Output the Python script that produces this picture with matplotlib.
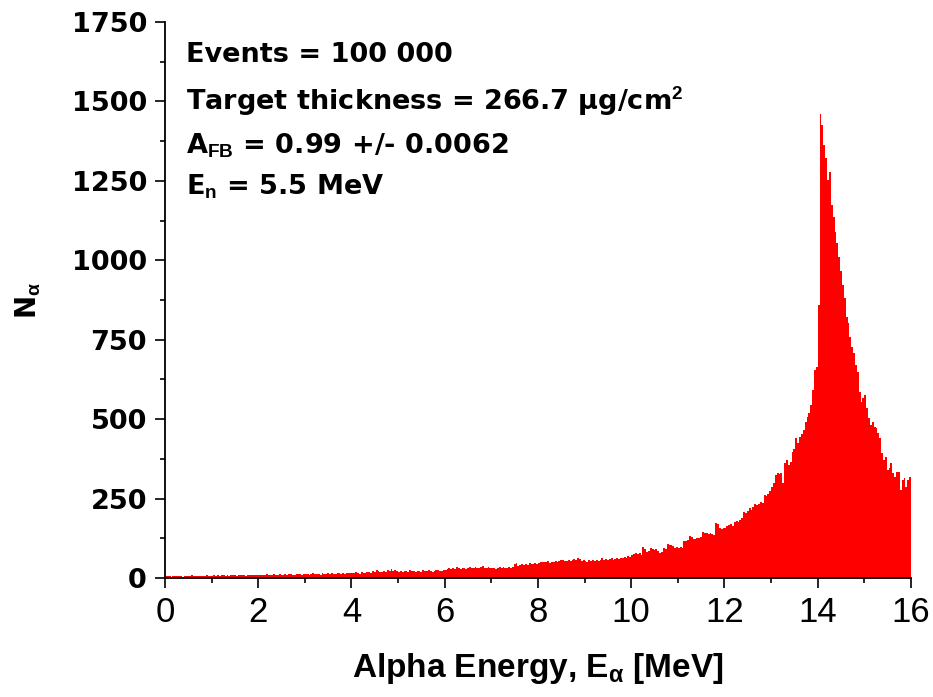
import matplotlib
matplotlib.use('Agg')
import matplotlib.pyplot as plt
from matplotlib import font_manager
import numpy as np

# histogram of alpha energies, 0.04 MeV bins (25 per MeV)
bin_width = 0.04
counts_0_4 = [
    7, 5, 6, 4, 6, 5, 7, 6, 5, 4, 6, 7, 5, 6, 8, 6, 5, 7, 6, 5, 7, 6, 8, 6, 7,
    7, 8, 6, 9, 7, 8, 10, 7, 8, 6, 9, 8, 10, 7, 9, 8, 10, 9, 7, 11, 8, 9, 10, 8, 9,
    9, 11, 10, 8, 12, 10, 11, 9, 12, 11, 10, 13, 11, 9, 12, 10, 13, 12, 11, 10, 13, 12, 14, 11, 12,
    12, 14, 11, 13, 15, 12, 14, 13, 11, 15, 13, 14, 16, 12, 15, 14, 13, 16, 15, 14, 17, 13, 16, 15, 17,
]
counts_4_8 = [
    16, 15, 18, 17, 14, 19, 17, 16, 20, 18, 17, 21, 19, 26, 22, 18, 20, 23, 19, 25, 22, 27, 21, 24, 22,
    20, 22, 19, 21, 23, 20, 24, 22, 21, 19, 23, 22, 20, 24, 21, 22, 25, 23, 20, 22, 26, 24, 21, 23, 25,
    26, 28, 30, 27, 31, 29, 35, 32, 28, 30, 33, 29, 31, 34, 30, 32, 36, 33, 30, 35, 39, 33, 31, 34, 32,
    30, 33, 29, 32, 35, 31, 34, 30, 33, 36, 32, 35, 45, 46, 38, 40, 43, 41, 44, 42, 46, 43, 45, 48, 44,
]
counts_8_12 = [
    47, 50, 52, 49, 51, 53, 48, 52, 50, 54, 51, 55, 58, 56, 53, 55, 58, 54, 57, 60, 56, 62, 59, 55, 58,
    55, 52, 57, 54, 56, 53, 58, 55, 57, 63, 56, 59, 57, 60, 62, 58, 61, 64, 60, 63, 62, 66, 64, 70, 66,
    72, 75, 78, 76, 80, 74, 98, 92, 83, 86, 94, 91, 88, 90, 85, 80, 82, 93, 90, 107, 103, 104, 100, 96, 98,
    96, 98, 94, 117, 115, 120, 132, 128, 124, 122, 127, 125, 129, 146, 143, 141, 138, 141, 139, 135, 174, 170, 156, 153, 158,
]
counts_12_16 = [
    158, 163, 167, 170, 165, 177, 180, 175, 184, 188, 209, 205, 212, 219, 215, 224, 232, 229, 233, 240, 236, 261, 258, 265, 275,
    285, 299, 324, 329, 326, 331, 299, 361, 371, 356, 365, 397, 405, 440, 426, 445, 452, 466, 490, 508, 518, 545, 592, 655, 665,
    860, 1460, 1426, 1363, 1322, 1253, 1278, 1174, 1136, 1089, 1054, 1010, 965, 922, 881, 822, 802, 760, 727, 708, 670, 648, 585, 554, 566,
    576, 535, 503, 482, 491, 475, 472, 455, 441, 393, 371, 381, 340, 346, 362, 330, 318, 334, 334, 277, 308, 315, 286, 308, 318,
]

x_ticks = [0, 2, 4, 6, 8, 10, 12, 14, 16]
y_ticks = [0, 250, 500, 750, 1000, 1250, 1500, 1750]
info_lines = [
    'Events = 100 000',
    'Target thickness = 266.7 \u03bcg/cm$^{2}$',
    'A$_{FB}$ = 0.99 +/- 0.0062',
    'E$_{n}$ = 5.5 MeV',
]

counts = np.array(counts_0_4 + counts_4_8 + counts_8_12 + counts_12_16)
left_edges = np.arange(len(counts)) * bin_width

installed = {f.name for f in font_manager.fontManager.ttflist}
narrow = 'Liberation Sans Narrow' if 'Liberation Sans Narrow' in installed else 'Liberation Sans'

plt.rcParams['mathtext.fontset'] = 'custom'
plt.rcParams['mathtext.bf'] = narrow + ':bold'
plt.rcParams['mathtext.rm'] = narrow
plt.rcParams['mathtext.default'] = 'bf'

fig = plt.figure(figsize=(9.33, 6.97), dpi=100)
ax = fig.add_axes([0.1768, 0.1707, 0.7996, 0.7977])

ax.bar(left_edges, counts, width=bin_width, align='edge', color='#ff0000', linewidth=0)

ax.set_xlim(0, 16)
ax.set_ylim(0, 1750)
ax.set_xticks(x_ticks)
ax.set_xticks(np.arange(1, 16, 2), minor=True)
ax.set_yticks(y_ticks)
ax.set_yticks(np.arange(125, 1750, 250), minor=True)

for side in ['top', 'right']:
    ax.spines[side].set_visible(False)
for side in ['left', 'bottom']:
    ax.spines[side].set_linewidth(1.3)

ax.tick_params(which='major', direction='out', length=7, width=1.2)
ax.tick_params(which='minor', direction='out', length=3.6, width=1.2)
ax.tick_params(axis='x', which='major', pad=6)
ax.tick_params(axis='y', which='major', pad=6)

for lbl in ax.get_xticklabels():
    lbl.set_fontfamily(narrow)
    lbl.set_fontsize(25)
for lbl in ax.get_yticklabels():
    lbl.set_fontfamily('DejaVu Sans')
    lbl.set_fontweight('bold')
    lbl.set_fontsize(19.5)

ax.set_xlabel('Alpha Energy, E$_{\u03b1}$ [MeV]', fontfamily=narrow, fontweight='bold', fontsize=24)
ax.xaxis.set_label_coords(0.5, -0.132)
ax.set_ylabel('N$_{\u03b1}$', fontfamily='DejaVu Sans', fontweight='bold', fontsize=20)
ax.yaxis.set_label_coords(-0.163, 0.5)

line_y = [0.928, 0.842, 0.764, 0.689]
for txt, yy in zip(info_lines, line_y):
    ax.text(0.028, yy, txt, transform=ax.transAxes, fontfamily='DejaVu Sans',
            fontweight='bold', fontsize=19.5, va='baseline', ha='left')

fig.savefig('out.png', dpi=100)
